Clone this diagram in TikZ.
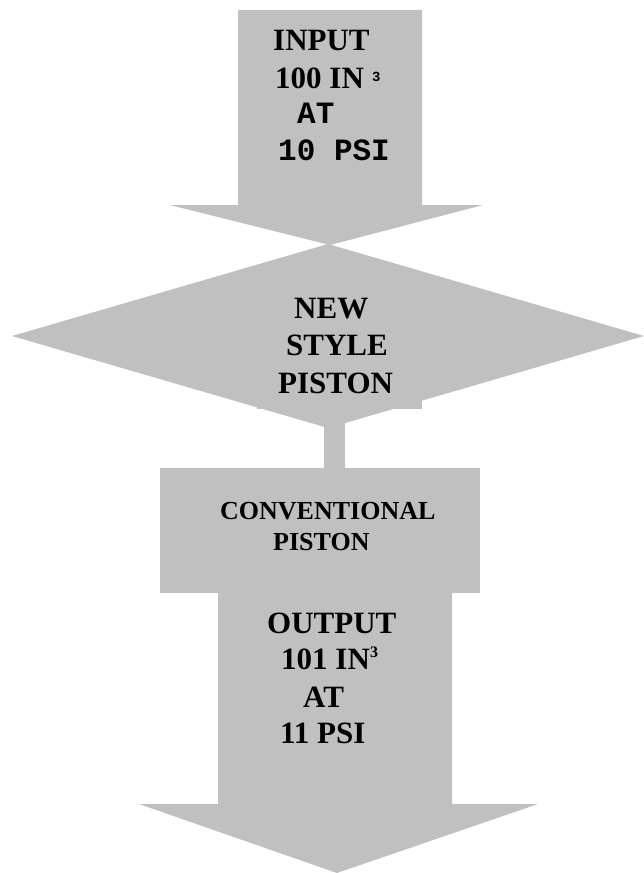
\documentclass[tikz,border=0pt]{standalone}
\usepackage{fontspec}
\setmainfont{Liberation Serif}
\setmonofont{Liberation Mono}
\usetikzlibrary{shapes.geometric}
\definecolor{pistongray}{HTML}{C0C0C0}
\begin{document}
\begin{tikzpicture}[x=1pt,y=-1pt,
  blk/.style={fill=pistongray,draw=none},
  lbl/.style={inner sep=0pt,anchor=base west,font=\fontsize{31}{37}\selectfont\bfseries},
  mlbl/.style={inner sep=0pt,anchor=base west,font=\fontsize{31}{37}\selectfont\ttfamily\bfseries},
  clbl/.style={inner sep=0pt,anchor=base west,font=\fontsize{26}{31}\selectfont\bfseries},
  smalllbl/.style={inner sep=0pt,anchor=base west,font=\fontsize{16}{19}\selectfont\bfseries},
  smallmono/.style={inner sep=0pt,anchor=base west,font=\fontsize{14}{17}\selectfont\ttfamily\bfseries}
]
\useasboundingbox (0,0) rectangle (644,873);
% top input arrow
\fill[blk] (238,10) -- (422,10) -- (422,205) -- (483,205) -- (330,245) -- (170,205) -- (238,205) -- cycle;
% diamond
\node[diamond,blk,minimum width=632pt,minimum height=184pt,inner sep=0pt,outer sep=0pt] (newpiston) at (328,336) {};
\fill[blk] (257,380) rectangle (422,409);
% stem
\fill[blk] (324,420) rectangle (345,469);
% conventional box
\node[rectangle,blk,minimum width=320pt,minimum height=125pt,inner sep=0pt,outer sep=0pt] (conv) at (320,530.5) {};
% output arrow
\fill[blk] (218,592) -- (452,592) -- (452,804) -- (538,804) -- (337,873) -- (139,804) -- (218,804) -- cycle;
% texts
\node[lbl] (in1) at (273,50) {INPUT};
\node[lbl] (in2) at (275,88) {100 IN};
\node[smallmono] (in2s) at (372,81) {3};
\node[mlbl] (in3) at (297,123) {AT};
\node[mlbl] (in4) at (278,160) {10 PSI};
\node[lbl] (np1) at (294,318) {NEW};
\node[lbl] (np2) at (286,355) {STYLE};
\node[lbl] (np3) at (278,393) {PISTON};
\node[clbl] (cv1) at (220,519) {CONVENTIONAL};
\node[clbl] (cv2) at (273,550) {PISTON};
\node[lbl] (out1) at (267,633) {OUTPUT};
\node[lbl] (out2) at (281,669) {101 IN};
\node[smalllbl] (out2s) at (370,657) {3};
\node[lbl] (out3) at (303,707) {AT};
\node[lbl] (out4) at (280,743) {11 PSI};
\end{tikzpicture}
\end{document}
